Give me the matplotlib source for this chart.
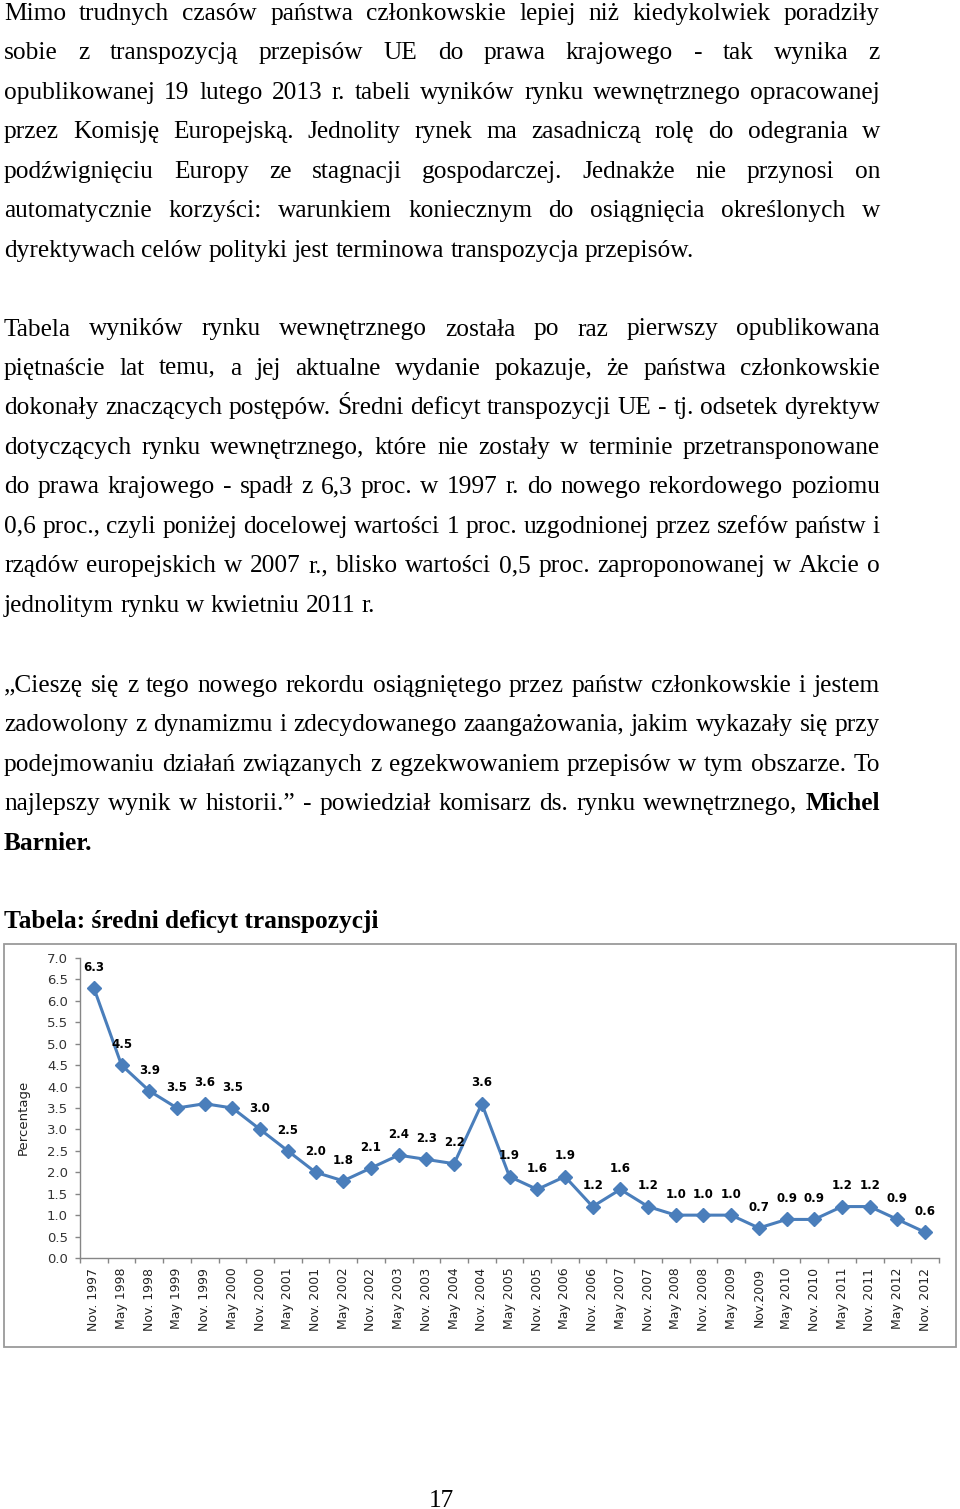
import matplotlib
matplotlib.use("Agg")
import matplotlib.pyplot as plt
import numpy as np
from matplotlib.patches import Rectangle

# ================ #
# page data        #
# ================ #
par1 = [
    "Mimo trudnych czasów państwa członkowskie lepiej niż kiedykolwiek poradziły",
    "sobie z transpozycją przepisów UE do prawa krajowego - tak wynika z",
    "opublikowanej 19 lutego 2013 r. tabeli wyników rynku wewnętrznego opracowanej",
    "przez Komisję Europejską. Jednolity rynek ma zasadniczą rolę do odegrania w",
    "podźwignięciu Europy ze stagnacji gospodarczej. Jednakże nie przynosi on",
    "automatycznie korzyści: warunkiem koniecznym do osiągnięcia określonych w",
    "dyrektywach celów polityki jest terminowa transpozycja przepisów.",
]
par2 = [
    "Tabela wyników rynku wewnętrznego została po raz pierwszy opublikowana",
    "piętnaście lat temu, a jej aktualne wydanie pokazuje, że państwa członkowskie",
    "dokonały znaczących postępów. Średni deficyt transpozycji UE - tj. odsetek dyrektyw",
    "dotyczących rynku wewnętrznego, które nie zostały w terminie przetransponowane",
    "do prawa krajowego - spadł z 6,3 proc. w 1997 r. do nowego rekordowego poziomu",
    "0,6 proc., czyli poniżej docelowej wartości 1 proc. uzgodnionej przez szefów państw i",
    "rządów europejskich w 2007 r., blisko wartości 0,5 proc. zaproponowanej w Akcie o",
    "jednolitym rynku w kwietniu 2011 r.",
]
par3 = [
    "„Cieszę się z tego nowego rekordu osiągniętego przez państw członkowskie i jestem",
    "zadowolony z dynamizmu i zdecydowanego zaangażowania, jakim wykazały się przy",
    "podejmowaniu działań związanych z egzekwowaniem przepisów w tym obszarze. To",
    "najlepszy wynik w historii.” - powiedział komisarz ds. rynku wewnętrznego, **Michel**",
    "**Barnier.**",
]
title_text = "Tabela: średni deficyt transpozycji"
page_number = "17"

# ================ #
# chart data       #
# ================ #
periods = [
    "Nov. 1997", "May 1998", "Nov. 1998", "May 1999", "Nov. 1999", "May 2000",
    "Nov. 2000", "May 2001", "Nov. 2001", "May 2002", "Nov. 2002", "May 2003",
    "Nov. 2003", "May 2004", "Nov. 2004", "May 2005", "Nov. 2005", "May 2006",
    "Nov. 2006", "May 2007", "Nov. 2007", "May 2008", "Nov. 2008", "May 2009",
    "Nov.2009", "May 2010", "Nov. 2010", "May 2011", "Nov. 2011", "May 2012",
    "Nov. 2012",
]
deficit = [
    6.3, 4.5, 3.9, 3.5, 3.6, 3.5, 3.0, 2.5, 2.0, 1.8, 2.1, 2.4, 2.3, 2.2, 3.6,
    1.9, 1.6, 1.9, 1.2, 1.6, 1.2, 1.0, 1.0, 1.0, 0.7, 0.9, 0.9, 1.2, 1.2, 0.9,
    0.6,
]
y_ticks = [0.0, 0.5, 1.0, 1.5, 2.0, 2.5, 3.0, 3.5, 4.0, 4.5, 5.0, 5.5, 6.0, 6.5, 7.0]

# ---------------------------#
# layout (pixels, top-down)  #
# ---------------------------#
W, H = 960, 1509
SERIF = "Liberation Serif"
BODY_SIZE = 18.3
X_LEFT, X_RIGHT = 4, 880
LEAD = 39.45
BLUE = "#4A7EBB"
GREY = "#868686"

fig = plt.figure(figsize=(W / 100, H / 100), dpi=100, facecolor="white")
renderer = fig.canvas.get_renderer()


def text_width(s, bold=False):
    t = fig.text(0, 0, s, fontsize=BODY_SIZE, family=SERIF,
                 fontweight="bold" if bold else "normal")
    w = t.get_window_extent(renderer).width
    t.remove()
    return w


space_w = text_width("a a") - text_width("aa")


def put_line(line, y, justify):
    items, widths = [], []
    for word in line.split(" "):
        bold = word.startswith("**")
        word = word.strip("*")
        t = fig.text(0, 1 - y / H, word, fontsize=BODY_SIZE, family=SERIF,
                     fontweight="bold" if bold else "normal", va="baseline")
        items.append(t)
        widths.append(t.get_window_extent(renderer).width)
    if justify and len(items) > 1:
        gap = (X_RIGHT - X_LEFT - sum(widths)) / (len(items) - 1)
    else:
        gap = space_w
    x = X_LEFT
    for t, w in zip(items, widths):
        t.set_x(x / W)
        x += w + gap


for lines, y0 in ((par1, 20), (par2, 335.5), (par3, 692)):
    for i, line in enumerate(lines):
        put_line(line, y0 + i * LEAD, justify=i < len(lines) - 1)

fig.text(X_LEFT / W, 1 - 928 / H, title_text, fontsize=BODY_SIZE, family=SERIF,
         fontweight="bold", va="baseline")
fig.text(441 / W, 1 - 1507 / H, page_number, fontsize=BODY_SIZE, family=SERIF,
         ha="center", va="baseline")

# ---------------------------#
# chart frame and axes       #
# ---------------------------#
fig.patches.append(Rectangle((4 / W, 1 - 1347 / H), 952 / W, 403 / H,
                             transform=fig.transFigure, fill=False,
                             edgecolor="#9a9a9a", lw=1.3))

ax = fig.add_axes([80 / W, 1 - 1258 / H, (939 - 80) / W, 300 / H])
xs = np.arange(len(deficit))
ax.plot(xs, deficit, color=BLUE, lw=2.2, marker="D", ms=6.8, zorder=3,
        clip_on=False)
for i, v in enumerate(deficit):
    ax.annotate(f"{v:.1f}", (i, v), xytext=(0, 15), textcoords="offset points",
                ha="center", va="center", fontsize=8.5, fontweight="bold",
                family="DejaVu Sans", color="black")

ax.set_xlim(-0.5, len(deficit) - 0.5)
ax.set_ylim(0, 7)
ax.set_yticks(y_ticks)
ax.set_yticklabels([f"{t:.1f}" for t in y_ticks])
ax.set_xticks(xs)
ax.set_xticklabels(periods, rotation=90, ha="center", va="top")
ax.set_xticks(np.arange(-0.5, len(deficit), 1), minor=True)

for side in ("top", "right"):
    ax.spines[side].set_visible(False)
for side in ("left", "bottom"):
    ax.spines[side].set_color(GREY)
    ax.spines[side].set_linewidth(1.0)

ax.tick_params(axis="x", which="major", length=0, pad=7, labelsize=9,
               labelcolor="#222222")
ax.tick_params(axis="x", which="minor", length=3.6, color=GREY, width=1.0)
ax.tick_params(axis="y", which="major", length=3.6, color=GREY, width=1.0,
               pad=5, labelsize=9.5, labelcolor="#333333")
ax.set_ylabel("Percentage", fontsize=9.5, color="#222222")
ax.yaxis.set_label_coords(-0.059, 0.47)

fig.savefig("out.png", dpi=100, facecolor="white")
